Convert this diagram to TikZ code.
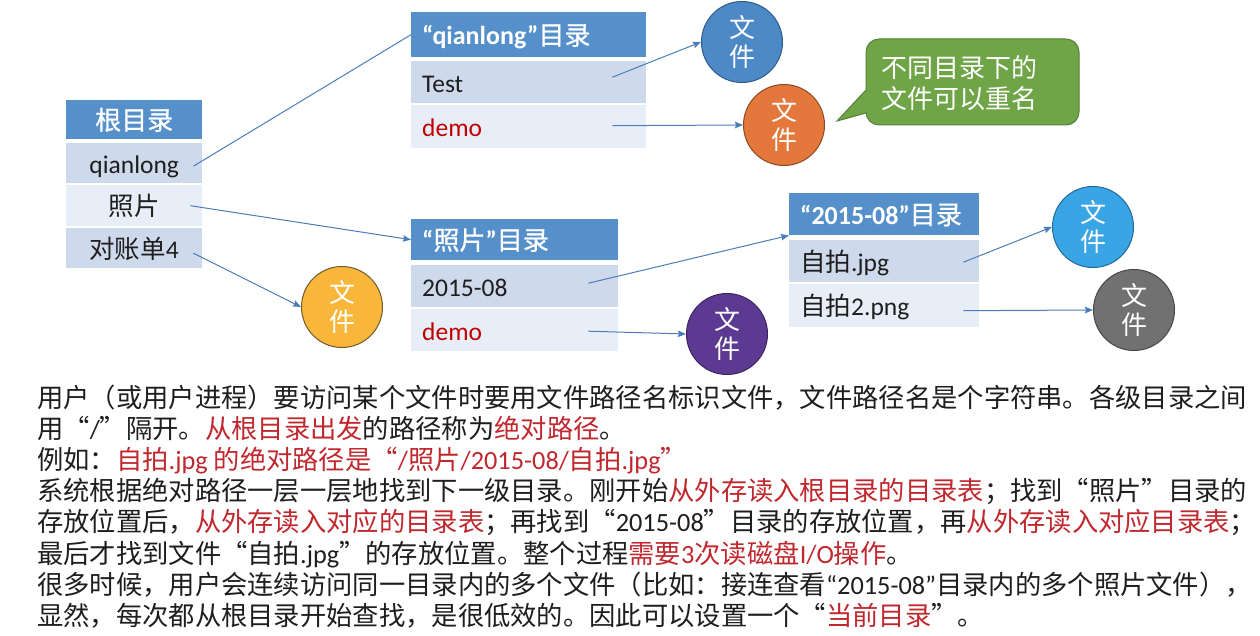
\documentclass[tikz,border=0pt]{standalone}
\usepackage{fontspec}
\setmainfont{Carlito}
\newfontfamily\cjkfam{Noto Sans CJK SC}[BoldFont={Noto Sans CJK SC}, BoldFeatures={FakeBold=0.8}]
\usetikzlibrary{arrows.meta,calc}

\XeTeXinterchartokenstate=1
\newXeTeXintercharclass\CJKcls
\newcount\cjkc
\def\setcjkrange#1#2{\cjkc=#1\relax\loop\XeTeXcharclass\cjkc=\CJKcls\relax\ifnum\cjkc<#2\relax\advance\cjkc by 1\relax\repeat}
\setcjkrange{"4E00}{"9FFF}
\setcjkrange{"3000}{"303F}
\setcjkrange{"FF00}{"FFEF}
\XeTeXcharclass"201C=\CJKcls
\XeTeXcharclass"201D=\CJKcls
\XeTeXinterchartoks 0 \CJKcls = {\cjkfam}
\XeTeXinterchartoks 4095 \CJKcls = {\cjkfam}
\XeTeXinterchartoks \CJKcls 0 = {\rmfamily}
\XeTeXinterchartoks \CJKcls 4095 = {\rmfamily}

\definecolor{hdrblue}{HTML}{5590CB}
\definecolor{rowdark}{HTML}{CED9EC}
\definecolor{rowlight}{HTML}{E8EEF7}
\definecolor{txtred}{HTML}{C00000}
\definecolor{bodyred}{HTML}{C0282E}
\definecolor{bodyblack}{HTML}{1E1E1E}
\definecolor{arrowblue}{HTML}{4A7EBB}
\definecolor{cblue}{HTML}{4D88C7}
\definecolor{cblueE}{HTML}{2E5A8A}
\definecolor{corange}{HTML}{E4773B}
\definecolor{corangeE}{HTML}{8E4A22}
\definecolor{cyellow}{HTML}{F8B63A}
\definecolor{cyellowE}{HTML}{6E5A2A}
\definecolor{cpurple}{HTML}{5D3A92}
\definecolor{cpurpleE}{HTML}{3A2460}
\definecolor{clblue}{HTML}{3AA5E5}
\definecolor{clblueE}{HTML}{22689A}
\definecolor{cgray}{HTML}{717171}
\definecolor{cgrayE}{HTML}{474747}
\definecolor{cgreen}{HTML}{6FA447}
\definecolor{cgreenE}{HTML}{55813A}

\begin{document}
\begin{tikzpicture}[x=1pt,y=-1pt,
  cellbase/.style={anchor=north west, inner ysep=0pt, text height=22pt, text depth=2pt},
  hdr/.style={cellbase, fill=hdrblue, text=white, font=\fontsize{26}{30}\selectfont\bfseries},
  rowA/.style={cellbase, fill=rowdark, text=bodyblack, font=\fontsize{25.5}{30}\selectfont},
  rowB/.style={cellbase, fill=rowlight, text=bodyblack, font=\fontsize{25.5}{30}\selectfont},
  filec/.style={circle, minimum size=81pt, inner sep=0pt, line width=1pt, text=white, align=center, font=\fontsize{26}{29}\selectfont},
  arr/.style={draw=arrowblue, line width=1pt, -{Stealth[length=8pt,width=6.5pt,inset=1pt]}},
  line/.style={draw=arrowblue, line width=1pt},
  body/.style={anchor=base west, inner sep=0pt, text=bodyblack, font=\fontsize{26.3}{31}\selectfont}
]
\useasboundingbox (0,0) rectangle (1260,636);
\fill[white] (0,0) rectangle (1260,636);

% root directory
\node[hdr, text width=136pt, inner xsep=0pt, align=center, minimum height=39pt] (root) at (66,100) {根目录};
\node[rowA, text width=136pt, inner xsep=0pt, align=center, minimum height=40pt] (r1) at (66,143) {qianlong};
\node[rowB, text width=136pt, inner xsep=0pt, align=center, minimum height=41pt] (r2) at (66,185) {照片};
\node[rowA, text width=136pt, inner xsep=0pt, align=center, minimum height=40pt] (r3) at (66,228) {对账单4};

% qianlong directory
\node[hdr, text width=213pt, inner xsep=11pt, align=left, minimum height=45pt] (h1) at (411,12) {``qianlong''目录};
\node[rowA, text width=213pt, inner xsep=11pt, align=left, minimum height=42pt] (t1) at (411,61) {Test};
\node[rowB, text width=213pt, inner xsep=11pt, align=left, minimum height=43pt, text=txtred] (t2) at (411,105) {demo};

% photo directory
\node[hdr, text width=185pt, inner xsep=11pt, align=left, minimum height=41pt] (h2) at (411,219) {``照片''目录};
\node[rowA, text width=185pt, inner xsep=11pt, align=left, minimum height=42pt] (p1) at (411,265) {2015-08};
\node[rowB, text width=185pt, inner xsep=11pt, align=left, minimum height=42pt, text=txtred] (p2) at (411,309) {demo};

% 2015-08 directory
\node[hdr, text width=168pt, inner xsep=11pt, align=left, minimum height=42pt] (h3) at (789,193) {``2015-08''目录};
\node[rowA, text width=168pt, inner xsep=11pt, align=left, minimum height=42pt] (d1) at (789,240) {自拍.jpg};
\node[rowB, text width=168pt, inner xsep=11pt, align=left, minimum height=43pt] (d2) at (789,284) {自拍2.png};

% files
\node[filec, fill=cblue, draw=cblueE] (c1) at (742,42) {文\\件};
\node[filec, fill=corange, draw=corangeE] (c2) at (784,125) {文\\件};
\node[filec, fill=cyellow, draw=cyellowE] (c3) at (342,307) {文\\件};
\node[filec, fill=cpurple, draw=cpurpleE] (c4) at (727,334) {文\\件};
\node[filec, fill=clblue, draw=clblueE] (c5) at (1093,227) {文\\件};
\node[filec, fill=cgray, draw=cgrayE] (c6) at (1134,310) {文\\件};

% callout
\draw[fill=cgreen, draw=cgreenE, line width=1pt, rounded corners=13pt]
  (866,90) -- (866,39) -- (1079,39) -- (1079,125) -- (866,125) [sharp corners] -- (866,113) -- (837,121) -- cycle;
\node[inner sep=0pt, text=white, align=left, font=\fontsize{26}{30.5}\selectfont] (note) at (959,83) {不同目录下的\\文件可以重名};

% connectors
\draw[line] ($(r1.east)+(-9,3)$) -- (h1.west);
\draw[arr] ($(r2.east)+(-12,0)$) -- (h2.west);
\draw[arr] ($(r3.east)+(-9,5)$) -- (c3.west);
\draw[arr] ($(t1.east)+(-34,-5)$) -- (c1.west);
\draw[arr] ($(t2.east)+(-34,-1)$) -- (c2.west);
\draw[arr] ($(p1.east)+(-30,-3)$) -- (h3.south west);
\draw[arr] ($(p2.east)+(-30,1)$) -- (c4.west);
\draw[arr] ($(d1.east)+(-16,1)$) -- (c5.west);
\draw[arr] ($(d2.east)+(-16,5)$) -- (c6.west);

% body text
\node[body] (l1) at (37,407.5) {用户（或用户进程）要访问某个文件时要用文件路径名标识文件，文件路径名是个字符串。各级目录之间};
\node[body] (l2) at (37,438.6) {用“/”隔开。\textcolor{bodyred}{从根目录出发}的路径称为\textcolor{bodyred}{绝对路径}。};
\node[body] (l3) at (37,469.7) {例如：\textcolor{bodyred}{自拍.jpg 的绝对路径是“/照片/2015-08/自拍.jpg”}};
\node[body] (l4) at (37,500.8) {系统根据绝对路径一层一层地找到下一级目录。刚开始\textcolor{bodyred}{从外存读入根目录的目录表}；找到“照片”目录的};
\node[body] (l5) at (37,531.9) {存放位置后，\textcolor{bodyred}{从外存读入对应的目录表}；再找到“2015-08”目录的存放位置，再\textcolor{bodyred}{从外存读入对应目录表}；};
\node[body] (l6) at (37,563.0) {最后才找到文件“自拍.jpg”的存放位置。整个过程\textcolor{bodyred}{需要3次读磁盘I/O操作}。};
\node[body] (l7) at (37,594.1) {很多时候，用户会连续访问同一目录内的多个文件（比如：接连查看``2015-08''目录内的多个照片文件），};
\node[body] (l8) at (37,625.2) {显然，每次都从根目录开始查找，是很低效的。因此可以设置一个“\textcolor{bodyred}{当前目录}”。};
\end{tikzpicture}
\end{document}
